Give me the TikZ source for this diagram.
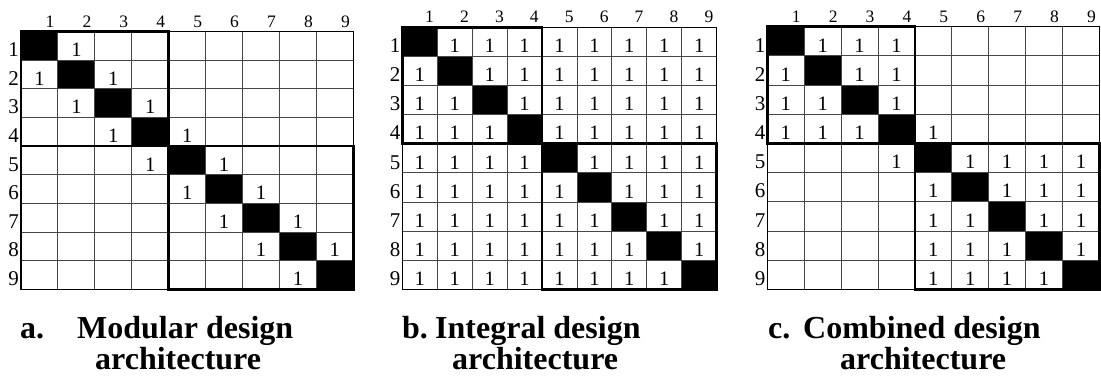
\documentclass[tikz,border=0pt]{standalone}
\usepackage{fontspec}
\setmainfont{Liberation Serif}
\tikzset{
  mA/.style={shift={(21pt,-31.7pt)}, x=36.92pt, y=-28.62pt},
  mB/.style={shift={(402.3pt,-27.3pt)}, x=34.93pt, y=-29.11pt},
  mC/.style={shift={(767.3pt,-26.7pt)}, x=36.89pt, y=-29.18pt},
  grid line/.style={draw=black!72, line width=0.9pt},
  outer line/.style={draw=black, line width=1.5pt},
  block line/.style={draw=black, line width=2.5pt, line cap=rect},
  one/.style={font=\fontsize{20.5}{20.5}\selectfont, inner sep=0pt, anchor=base},
  collabel/.style={font=\fontsize{17.5}{17.5}\selectfont, inner sep=0pt, anchor=base east},
  rowlabel/.style={font=\fontsize{21}{21}\selectfont, inner sep=0pt, anchor=base east},
  caption/.style={font=\bfseries\fontsize{32}{32}\selectfont, inner sep=0pt, anchor=base west},
}
\newcommand\dsmframe[1]{%
  \foreach \i in {1,...,9} \fill[black] (\i-1,\i-1) rectangle (\i,\i);
  \foreach \i in {1,...,8} {
    \draw[grid line] (\i,0) -- (\i,9);
    \draw[grid line] (0,\i) -- (9,\i);
  }
  \draw[outer line] (0,0) rectangle (9,9);
  \draw[block line] (0,0) rectangle (4,4);
  \draw[block line] (4,4) rectangle (9,9);
  \foreach \i in {1,...,9} {
    \node[collabel] (#1-h\i) at ({\i-0.09},-0.16) {\i};
    \node[rowlabel] (#1-v\i) at (-0.05,{\i-0.13}) {\i};
  }%
}
\begin{document}
\begin{tikzpicture}[x=1pt,y=-1pt]
\useasboundingbox (0,0) rectangle (1101,387);
\fill[white] (0,0) rectangle (1101,387);

% a. modular
\begin{scope}[mA]
  \dsmframe{a}
  \foreach \r/\c in {1/2,2/1,2/3,3/2,3/4,4/3,4/5,5/4,5/6,6/5,6/7,7/6,7/8,8/7,8/9,9/8}
    \node[one] (a-\r-\c) at ({\c-0.5},{\r-0.13}) {1};
\end{scope}

% b. integral
\begin{scope}[mB]
  \dsmframe{b}
  \foreach \r in {1,...,9} {
    \foreach \c in {1,...,9} {
      \ifnum\r=\c\else
        \node[one] (b-\r-\c) at ({\c-0.5},{\r-0.13}) {1};
      \fi
    }
  }
\end{scope}

% c. combined
\begin{scope}[mC]
  \dsmframe{c}
  \foreach \r in {1,...,4} {
    \foreach \c in {1,...,4} {
      \ifnum\r=\c\else
        \node[one] (c-\r-\c) at ({\c-0.5},{\r-0.13}) {1};
      \fi
    }
  }
  \foreach \r in {5,...,9} {
    \foreach \c in {5,...,9} {
      \ifnum\r=\c\else
        \node[one] (c-\r-\c) at ({\c-0.5},{\r-0.13}) {1};
      \fi
    }
  }
  \node[one] (c-4-5) at (4.5,3.87) {1};
  \node[one] (c-5-4) at (3.5,4.87) {1};
\end{scope}

% captions
\node[caption] (capa1) at (20,339) {a.};
\node[caption] (capa2) at (77,339) {Modular design};
\node[caption] (capa3) at (95,370) {architecture};
\node[caption] (capb1) at (402,339) {b.};
\node[caption] (capb2) at (435,339) {Integral design};
\node[caption] (capb3) at (452,370) {architecture};
\node[caption] (capc1) at (768,339) {c.};
\node[caption] (capc2) at (803,339) {Combined design};
\node[caption] (capc3) at (840,370) {architecture};
\end{tikzpicture}
\end{document}
